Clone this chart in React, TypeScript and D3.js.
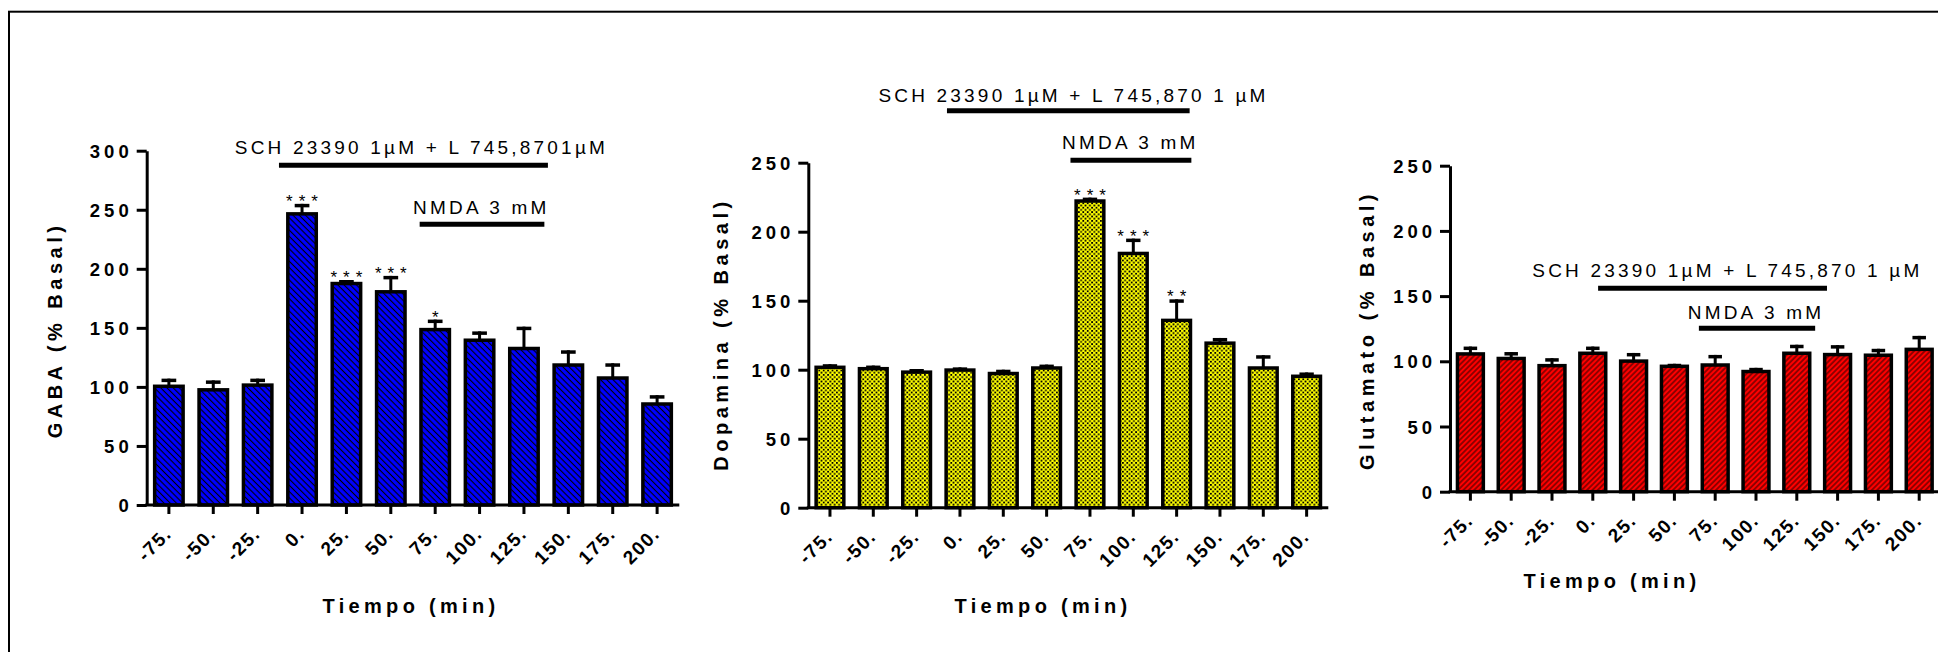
import React, { useEffect, useRef } from "react";
import * as d3 from "d3";

// time points (min), shared by the three panels
const timeLabels = ["-75.", "-50.", "-25.", "0.", "25.", "50.", "75.", "100.", "125.", "150.", "175.", "200."];

const gabaValues = [102, 99, 103, 248, 189, 182, 150, 141, 134, 120, 109, 87];
const gabaErrors = [5, 6.5, 4, 7, 1.5, 12, 7, 6, 17, 11, 11, 6];
const gabaStars = ["", "", "", "***", "***", "***", "*", "", "", "", "", ""];
const gabaTicks = [0, 50, 100, 150, 200, 250, 300];

const dopaValues = [103, 102, 99.5, 101, 98.5, 102.5, 223.5, 185.5, 137, 120.5, 102.5, 96.5];
const dopaErrors = [1, 1, 1, 0.7, 1.5, 1.2, 1.2, 9.5, 14, 2.5, 8, 1.5];
const dopaStars = ["", "", "", "", "", "", "***", "***", "**", "", "", ""];

const gluValues = [107, 103.5, 98, 107.5, 101.5, 97.5, 98.5, 93.5, 107.5, 106.5, 106, 110.5];
const gluErrors = [4.3, 3.6, 4.4, 3.8, 4.9, 0.6, 6.4, 1.5, 5.2, 5.9, 3.6, 9];
const gluStars = ["", "", "", "", "", "", "", "", "", "", "", ""];

const basalTicks = [0, 50, 100, 150, 200, 250];

const schLabelGaba = "SCH 23390 1µM + L 745,8701µM";
const schLabel = "SCH 23390 1µM + L 745,870 1 µM";
const nmdaLabel = "NMDA 3 mM";
const xTitle = "Tiempo (min)";

const FONT = "'Liberation Sans', Arial, Helvetica, sans-serif";

// layout of each panel (pixels), annotations given in bar-index / y-value units
const panels = [
  {
    yTitle: "GABA (% Basal)", values: gabaValues, errors: gabaErrors, stars: gabaStars,
    ticks: gabaTicks, yMax: 300, fill: "url(#hatchBlue)",
    x0: 146.7, x1: 679.3, yBottom: 505, yTop: 150.7,
    yTitleX: 55, yTitleY: 330, xTitleX: 411, xTitleY: 613,
    sch: { label: schLabelGaba, at: 5.69, textV: 297, from: 2.48, to: 8.54, lineV: 287.7 },
    nmda: { at: 7.04, textV: 246.8, from: 5.65, to: 8.46, lineV: 237.8 },
  },
  {
    yTitle: "Dopamina (% Basal)", values: dopaValues, errors: dopaErrors, stars: dopaStars,
    ticks: basalTicks, yMax: 250, fill: "url(#checkYellow)",
    x0: 808.3, x1: 1328.3, yBottom: 507.7, yTop: 162.7,
    yTitleX: 721, yTitleY: 334, xTitleX: 1043, xTitleY: 613,
    sch: { label: schLabel, at: 5.62, textV: 294.2, from: 2.7, to: 8.3, lineV: 287.6 },
    nmda: { at: 6.93, textV: 260.1, from: 5.55, to: 8.34, lineV: 251.8 },
  },
  {
    yTitle: "Glutamato (% Basal)", values: gluValues, errors: gluErrors, stars: gluStars,
    ticks: basalTicks, yMax: 250, fill: "url(#hatchRed)",
    x0: 1450, x1: 1939.6, yBottom: 491.7, yTop: 165.7,
    yTitleX: 1367, yTitleY: 330, xTitleX: 1612, xTitleY: 588,
    sch: { label: schLabel, at: 6.3, textV: 164.6, from: 3.13, to: 8.74, lineV: 156 },
    nmda: { at: 7.0, textV: 132.4, from: 5.6, to: 8.45, lineV: 125.3 },
  },
];

const App = () => {
  const ref = useRef<SVGSVGElement | null>(null);

  useEffect(() => {
    const svg = d3.select(ref.current);
    svg.selectAll("*").remove();

    const defs = svg.append("defs");

    const blue = defs.append("pattern").attr("id", "hatchBlue")
      .attr("patternUnits", "userSpaceOnUse").attr("width", 4.4).attr("height", 4.4)
      .attr("patternTransform", "rotate(-45)");
    blue.append("rect").attr("width", 4.4).attr("height", 4.4).attr("fill", "#0000ff");
    blue.append("line").attr("x1", 2.2).attr("x2", 2.2).attr("y1", 0).attr("y2", 4.4)
      .attr("stroke", "#000").attr("stroke-width", 1.1);

    const red = defs.append("pattern").attr("id", "hatchRed")
      .attr("patternUnits", "userSpaceOnUse").attr("width", 3.8).attr("height", 3.8)
      .attr("patternTransform", "rotate(45)");
    red.append("rect").attr("width", 3.8).attr("height", 3.8).attr("fill", "#ff0000");
    red.append("line").attr("x1", 1.9).attr("x2", 1.9).attr("y1", 0).attr("y2", 3.8)
      .attr("stroke", "#000").attr("stroke-width", 0.85);

    const check = defs.append("pattern").attr("id", "checkYellow")
      .attr("patternUnits", "userSpaceOnUse").attr("width", 4.4).attr("height", 4.4);
    check.append("rect").attr("width", 4.4).attr("height", 4.4).attr("fill", "#ffff00");
    check.append("rect").attr("width", 1.8).attr("height", 1.8).attr("fill", "#000");
    check.append("rect").attr("x", 2.2).attr("y", 2.2).attr("width", 1.8).attr("height", 1.8).attr("fill", "#000");

    svg.append("rect").attr("width", 1938).attr("height", 652).attr("fill", "#fff");

    // outer frame (cut off on the right and bottom)
    svg.append("rect")
      .attr("x", 9).attr("y", 11.7).attr("width", 2100).attr("height", 900)
      .attr("fill", "none").attr("stroke", "#000").attr("stroke-width", 2);

    panels.forEach((p) => {
      const g = svg.append("g");
      const n = timeLabels.length;

      const x = d3.scaleBand().domain(timeLabels).range([p.x0, p.x1])
        .paddingInner(0.28).paddingOuter(0.14);
      const xi = d3.scaleLinear().domain([-0.5, n - 0.5]).range([p.x0, p.x1]);
      const y = d3.scaleLinear().domain([0, p.yMax]).range([p.yBottom, p.yTop]);

      const bw = x.bandwidth();
      const sw = 3.5;
      const cx = (i) => (x(timeLabels[i]) as number) + bw / 2;

      // bars
      g.selectAll(".bar").data(p.values).enter().append("rect")
        .attr("x", (d, i) => (x(timeLabels[i]) as number) + sw / 2)
        .attr("y", (d) => y(d) + sw / 2)
        .attr("width", bw - sw)
        .attr("height", (d) => y(0) - y(d) - sw / 2)
        .attr("fill", p.fill)
        .attr("stroke", "#000")
        .attr("stroke-width", sw);

      // error bars (upper only)
      g.selectAll(".err").data(p.values).enter().append("line")
        .attr("x1", (d, i) => cx(i)).attr("x2", (d, i) => cx(i))
        .attr("y1", (d) => y(d) + 2)
        .attr("y2", (d, i) => y(d + p.errors[i]))
        .attr("stroke", "#000").attr("stroke-width", 3);
      g.selectAll(".cap").data(p.values).enter().append("line")
        .attr("x1", (d, i) => cx(i) - bw * 0.23).attr("x2", (d, i) => cx(i) + bw * 0.23)
        .attr("y1", (d, i) => y(d + p.errors[i]) + 1.75)
        .attr("y2", (d, i) => y(d + p.errors[i]) + 1.75)
        .attr("stroke", "#000").attr("stroke-width", 3.5);

      // significance stars
      g.selectAll(".star").data(p.stars).enter().append("text")
        .attr("x", (d, i) => cx(i) + 3)
        .attr("y", (d, i) => y(p.values[i] + p.errors[i]) + 3)
        .attr("text-anchor", "middle")
        .style("font-family", FONT).style("font-size", "17px").style("letter-spacing", "6px")
        .attr("fill", "#000")
        .text((d) => d);

      // y axis
      const yAxis = g.append("g")
        .attr("transform", `translate(${p.x0},0)`)
        .call(d3.axisLeft(y).tickValues(p.ticks).tickSize(10).tickSizeOuter(0).tickFormat((d) => String(d)));
      yAxis.select(".domain").attr("stroke", "#000").attr("stroke-width", 3);
      yAxis.selectAll(".tick line").attr("stroke", "#000").attr("stroke-width", 3);
      yAxis.selectAll(".tick text")
        .attr("x", -14).attr("dy", "0.36em")
        .attr("fill", "#000")
        .style("font-family", FONT).style("font-size", "18.5px").style("font-weight", "bold")
        .style("letter-spacing", "4px");

      // x axis
      const xAxis = g.append("g")
        .attr("transform", `translate(0,${p.yBottom})`)
        .call(d3.axisBottom(x).tickSize(9).tickSizeOuter(0));
      xAxis.select(".domain").attr("stroke", "#000").attr("stroke-width", 3)
        .attr("d", `M${p.x0 - 1.5},0H${p.x1}`);
      xAxis.selectAll(".tick line").attr("stroke", "#000").attr("stroke-width", 3);
      xAxis.selectAll(".tick text")
        .attr("x", 0).attr("y", 0).attr("dy", 0)
        .attr("transform", "translate(4,30) rotate(-45)")
        .attr("text-anchor", "end")
        .attr("fill", "#000")
        .style("font-family", FONT).style("font-size", "19px").style("font-weight", "bold")
        .style("letter-spacing", "1.5px");

      // axis titles
      g.append("text")
        .attr("transform", `translate(${p.yTitleX},${p.yTitleY}) rotate(-90)`)
        .attr("text-anchor", "middle").attr("dominant-baseline", "central")
        .style("font-family", FONT).style("font-size", "20px").style("font-weight", "bold")
        .style("letter-spacing", "4.5px")
        .text(p.yTitle);
      g.append("text")
        .attr("x", p.xTitleX).attr("y", p.xTitleY)
        .attr("text-anchor", "middle")
        .style("font-family", FONT).style("font-size", "20px").style("font-weight", "bold")
        .style("letter-spacing", "4.3px")
        .text(xTitle);

      // treatment annotations
      const ann = [
        { label: p.sch.label, ...p.sch },
        { label: nmdaLabel, ...p.nmda },
      ];
      ann.forEach((a) => {
        g.append("line")
          .attr("x1", xi(a.from)).attr("x2", xi(a.to))
          .attr("y1", y(a.lineV)).attr("y2", y(a.lineV))
          .attr("stroke", "#000").attr("stroke-width", 5);
        g.append("text")
          .attr("x", xi(a.at)).attr("y", y(a.textV))
          .attr("text-anchor", "middle")
          .style("font-family", FONT).style("font-size", "19px")
          .style("letter-spacing", "3.2px")
          .text(a.label);
      });
    });
  }, []);

  return (
    <svg
      ref={ref}
      width={1938}
      height={652}
      style={{ position: "absolute", left: 0, top: 0, display: "block" }}
    />
  );
};

export default App;
